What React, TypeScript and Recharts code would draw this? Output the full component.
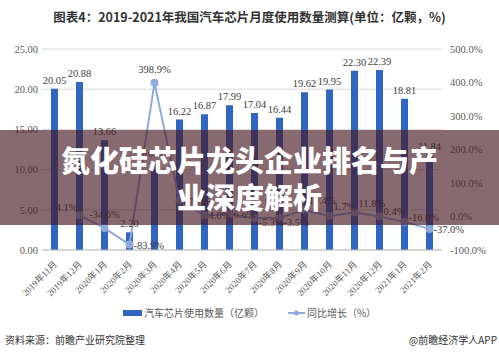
import React from "react";
import {
  ComposedChart,
  Bar,
  Line,
  XAxis,
  YAxis,
  CartesianGrid,
  LabelList,
} from "recharts";

const categories = [
  "2019年11月",
  "2019年12月",
  "2020年1月",
  "2020年2月",
  "2020年3月",
  "2020年4月",
  "2020年5月",
  "2020年6月",
  "2020年7月",
  "2020年8月",
  "2020年9月",
  "2020年10月",
  "2020年11月",
  "2020年12月",
  "2021年1月",
  "2021年2月",
];

// 汽车芯片使用数量（亿颗）
const usage = [
  20.05, 20.88, 13.66, 2.2, 10.98, 16.22, 16.87, 17.99, 17.04, 16.44, 19.62,
  19.95, 22.3, 22.39, 18.81, 11.84,
];

// 同比增长（%）
const growth: (number | null)[] = [
  null, 4.1, -34.6, -83.9, 398.9, 47.7, 4.0, 6.6, -5.3, -3.5, 19.4, 1.7, 11.8,
  0.4, -16.0, -37.0,
];

const leftTicks = [0, 5, 10, 15, 20, 25];
const rightTicks = [-100, 0, 100, 200, 300, 400, 500];

const BAR_COLOR = "#3065C2";
const LINE_COLOR = "#8FAADC";
const SERIF = '"Liberation Serif", "Noto Sans CJK SC", serif';
const CJK = '"Noto Sans CJK SC", sans-serif';

const chartData = categories.map((name, i) => ({
  name,
  usage: usage[i],
  growth: growth[i],
}));

const XTick = (props: any) => {
  const { x, y, payload } = props;
  return (
    <g transform={`translate(${x + 3},${y + 7})`}>
      <text
        transform="rotate(-45)"
        textAnchor="end"
        fontSize={9}
        fill="#595959"
        fontFamily={SERIF}
      >
        {payload.value}
      </text>
    </g>
  );
};

// a few labels sit on other sides of their points, as in the source
const GrowthLabel = (props: any) => {
  const { x, y, value, index } = props;
  if (value === null || value === undefined) return null;
  let tx = x + 4;
  let ty = y + 4;
  let anchor: "start" | "middle" | "end" = "start";
  if (index === 1) {
    tx = x - 2;
    ty = y - 4;
    anchor = "end";
  } else if (index === 2 || index === 4) {
    tx = x;
    ty = y - 10;
    anchor = "middle";
  } else if (index === 8 || index === 9) {
    ty = y + 8;
  } else if (index >= 10 && index <= 12) {
    ty = y - 6;
  } else if (index === 13 || index === 14) {
    ty = y - 1;
  }
  return (
    <text
      x={tx}
      y={ty}
      textAnchor={anchor}
      fontSize={10.5}
      fill="#404040"
      fontFamily={SERIF}
    >
      {`${value.toFixed(1)}%`}
    </text>
  );
};

const App: React.FC = () => {
  return (
    <div
      style={{
        position: "absolute",
        left: 0,
        top: 0,
        width: 499,
        height: 356,
        background: "#ffffff",
        overflow: "hidden",
      }}
    >
      <div
        style={{
          position: "absolute",
          top: 7,
          left: 0,
          width: 499,
          textAlign: "center",
          fontFamily: CJK,
          fontWeight: 700,
          fontSize: 12.5,
          color: "#333333",
        }}
      >
        图表4：2019-2021年我国汽车芯片月度使用数量测算(单位：亿颗，%)
      </div>

      <div style={{ position: "absolute", left: 0, top: 0 }}>
        <ComposedChart
          width={499}
          height={300}
          data={chartData}
          margin={{ top: 49, right: 0, bottom: 0, left: 0 }}
        >
          <CartesianGrid vertical={false} stroke="#d9d9d9" />
          <XAxis
            dataKey="name"
            height={50}
            interval={0}
            tickLine={false}
            axisLine={{ stroke: "#bfbfbf" }}
            tick={<XTick />}
          />
          <YAxis
            width={42}
            domain={[0, 25]}
            ticks={leftTicks}
            axisLine={false}
            tickLine={false}
            tickSize={0}
            tickMargin={4}
            tickFormatter={(v: number) => v.toFixed(2)}
            tick={{ fontSize: 10.5, fill: "#595959", fontFamily: SERIF }}
          />
          <YAxis
            yAxisId="right"
            orientation="right"
            width={57}
            domain={[-100, 500]}
            ticks={rightTicks}
            axisLine={false}
            tickLine={false}
            tickSize={0}
            tickMargin={8}
            tickFormatter={(v: number) => `${v.toFixed(1)}%`}
            tick={{ fontSize: 10.5, fill: "#595959", fontFamily: SERIF }}
          />
          <Bar dataKey="usage" fill={BAR_COLOR} barSize={7} isAnimationActive={false}>
            <LabelList
              dataKey="usage"
              position="top"
              offset={5}
              formatter={(v: any) => Number(v).toFixed(2)}
              style={{ fontSize: 10.5, fill: "#404040", fontFamily: SERIF }}
            />
          </Bar>
          <Line
            yAxisId="right"
            dataKey="growth"
            stroke={LINE_COLOR}
            strokeWidth={2}
            dot={{ r: 3, fill: LINE_COLOR, stroke: LINE_COLOR }}
            isAnimationActive={false}
          >
            <LabelList dataKey="growth" content={<GrowthLabel />} />
          </Line>
        </ComposedChart>
      </div>

      <div
        style={{
          position: "absolute",
          top: 305,
          left: 0,
          width: 499,
          display: "flex",
          justifyContent: "center",
          alignItems: "center",
          fontFamily: CJK,
          fontSize: 10,
          color: "#595959",
        }}
      >
        <span
          style={{
            display: "inline-block",
            width: 19,
            height: 6,
            background: BAR_COLOR,
            marginRight: 2,
          }}
        />
        <span style={{ marginRight: 24 }}>汽车芯片使用数量（亿颗）</span>
        <svg width={17} height={8} style={{ marginRight: 2 }}>
          <line x1={0} y1={4} x2={17} y2={4} stroke={LINE_COLOR} strokeWidth={2} />
          <circle cx={8.5} cy={4} r={2.5} fill={LINE_COLOR} />
        </svg>
        <span>同比增长（%）</span>
      </div>

      <div
        style={{
          position: "absolute",
          top: 332,
          left: 5,
          fontFamily: CJK,
          fontSize: 10,
          color: "#333333",
        }}
      >
        资料来源：前瞻产业研究院整理
      </div>
      <div
        style={{
          position: "absolute",
          top: 332,
          right: 2,
          fontFamily: CJK,
          fontSize: 10,
          color: "#333333",
        }}
      >
        @前瞻经济学人APP
      </div>

      <div
        style={{
          position: "absolute",
          top: 130,
          left: 0,
          width: 499,
          height: 95,
          background: "rgba(70, 25, 35, 0.65)",
          color: "#ffffff",
          fontFamily: CJK,
          fontWeight: 900,
          fontSize: 29,
          lineHeight: "37px",
          textAlign: "center",
          paddingTop: 11,
          boxSizing: "border-box",
        }}
      >
        <div>氮化硅芯片龙头企业排名与产</div>
        <div>业深度解析</div>
      </div>
    </div>
  );
};

export default App;
